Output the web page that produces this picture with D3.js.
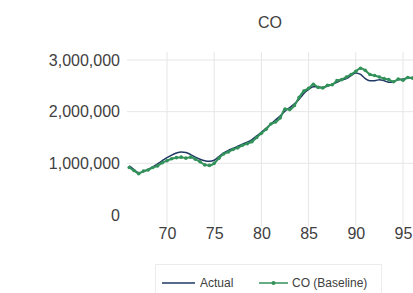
<!DOCTYPE html>
<html><head><meta charset="utf-8">
<script src="https://cdn.jsdelivr.net/npm/d3@7"></script>
<style>body{margin:0;background:#fff}svg{display:block}</style>
</head><body>
<script>
const periods = [66.0,66.5,67.0,67.5,68.0,68.5,69.0,69.5,70.0,70.5,71.0,71.5,72.0,72.5,73.0,73.5,74.0,74.5,75.0,75.5,76.0,76.5,77.0,77.5,78.0,78.5,79.0,79.5,80.0,80.5,81.0,81.5,82.0,82.5,83.0,83.5,84.0,84.5,85.0,85.5,86.0,86.5,87.0,87.5,88.0,88.5,89.0,89.5,90.0,90.5,91.0,91.5,92.0,92.5,93.0,93.5,94.0,94.5,95.0,95.5,96.0,96.5,97.0];
const actual = [950000,880000,820000,840000,880000,930000,990000,1050000,1110000,1160000,1200000,1220000,1210000,1170000,1120000,1080000,1050000,1040000,1060000,1130000,1200000,1250000,1290000,1330000,1370000,1410000,1460000,1530000,1600000,1680000,1760000,1840000,1920000,2010000,2080000,2150000,2240000,2350000,2430000,2480000,2480000,2470000,2490000,2530000,2570000,2610000,2640000,2700000,2750000,2720000,2640000,2600000,2600000,2620000,2600000,2570000,2580000,2620000,2630000,2650000,2660000,2680000,2700000];
const baseline = [920000,860000,800000,850000,870000,920000,950000,1010000,1050000,1090000,1110000,1120000,1100000,1120000,1080000,1030000,970000,960000,1000000,1100000,1180000,1220000,1270000,1300000,1350000,1380000,1420000,1500000,1580000,1660000,1760000,1800000,1880000,2050000,2040000,2120000,2280000,2400000,2450000,2530000,2470000,2460000,2510000,2520000,2600000,2620000,2670000,2720000,2780000,2840000,2800000,2720000,2700000,2670000,2640000,2620000,2580000,2630000,2610000,2660000,2650000,2670000,2720000];
const xTicks = [70,75,80,85,90,95];
const yTicks = [0,1000000,2000000,3000000];
const seriesNames = ["Actual","CO (Baseline)"];
const colors = ["#203864","#33925a"];

const W=413,H=293;
const svg=d3.select("body").append("svg").attr("width",W).attr("height",H);
const font="'Liberation Sans', Arial, sans-serif";
const x=d3.scaleLinear().domain([70,95]).range([167,403]);
const y=d3.scaleLinear().domain([0,3000000]).range([215,60]);

// gridlines
svg.append("g").selectAll("line").data(xTicks).join("line")
  .attr("x1",d=>x(d)).attr("x2",d=>x(d)).attr("y1",52).attr("y2",226)
  .attr("stroke","#e6e6e6").attr("stroke-width",1);
svg.append("g").selectAll("line").data(yTicks.filter(d=>d>0)).join("line")
  .attr("x1",127).attr("x2",W).attr("y1",d=>y(d)).attr("y2",d=>y(d))
  .attr("stroke","#e6e6e6").attr("stroke-width",1);

// axes via d3
const yAxis=svg.append("g").attr("transform","translate(127,0)")
  .call(d3.axisLeft(y).tickValues(yTicks).tickFormat(d3.format(",")).tickSize(0).tickPadding(7));
yAxis.select(".domain").remove();
yAxis.selectAll("text").attr("font-family",font).attr("font-size",16).attr("fill","#404040");
const xAxis=svg.append("g").attr("transform","translate(0,226)")
  .call(d3.axisBottom(x).tickValues(xTicks).tickFormat(d3.format("d")).tickSize(0).tickPadding(2));
xAxis.select(".domain").remove();
xAxis.selectAll("text").attr("font-family",font).attr("font-size",16).attr("fill","#404040");

// title
svg.append("text").attr("x",270).attr("y",28).attr("text-anchor","middle")
  .attr("font-family",font).attr("font-size",16).attr("fill","#404040").text("CO");

const line=d3.line().x((d,i)=>x(periods[i])).y(d=>y(d)).curve(d3.curveMonotoneX);
const g=svg.append("g");
g.append("path").datum(actual).attr("d",line).attr("fill","none").attr("stroke",colors[0]).attr("stroke-width",1.5);
g.append("path").datum(baseline).attr("d",line).attr("fill","none").attr("stroke",colors[1]).attr("stroke-width",2);
g.selectAll("circle").data(baseline).join("circle")
  .attr("cx",(d,i)=>x(periods[i])).attr("cy",d=>y(d)).attr("r",1.8).attr("fill",colors[1]);

// legend
const lg=svg.append("g");
lg.append("rect").attr("x",155.5).attr("y",264.5).attr("width",226).attr("height",40)
  .attr("fill","none").attr("stroke","#ececec");
lg.append("line").attr("x1",162).attr("x2",195).attr("y1",283).attr("y2",283).attr("stroke",colors[0]).attr("stroke-width",1.5);
lg.append("text").attr("x",200).attr("y",287).attr("font-family",font).attr("font-size",12).attr("fill","#404040").text(seriesNames[0]);
lg.append("line").attr("x1",259).attr("x2",288).attr("y1",283).attr("y2",283).attr("stroke",colors[1]).attr("stroke-width",1.5);
lg.append("circle").attr("cx",273.5).attr("cy",283).attr("r",2).attr("fill",colors[1]);
lg.append("text").attr("x",292).attr("y",287).attr("font-family",font).attr("font-size",12).attr("fill","#404040").text(seriesNames[1]);
</script>
</body></html>
